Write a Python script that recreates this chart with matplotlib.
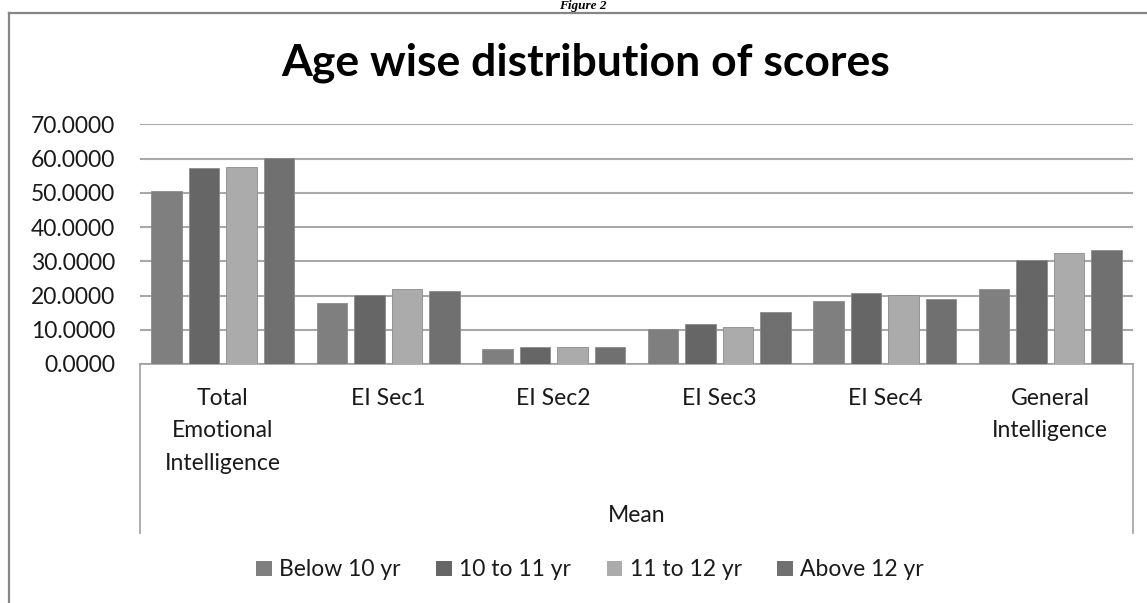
import matplotlib
matplotlib.use("Agg")
import matplotlib.pyplot as plt
from matplotlib.lines import Line2D
from matplotlib.patches import Patch
import numpy as np

categories = ["Total\nEmotional\nIntelligence", "EI Sec1", "EI Sec2", "EI Sec3",
              "EI Sec4", "General\nIntelligence"]
series_names = ["Below 10 yr", "10 to 11 yr", "11 to 12 yr", "Above 12 yr"]
below_10 = [50.5, 17.7, 4.3, 10.1, 18.5, 21.8]
from_10_to_11 = [57.2, 20.1, 5.0, 11.7, 20.7, 30.4]
from_11_to_12 = [57.6, 21.8, 5.0, 10.9, 20.1, 32.3]
above_12 = [60.3, 21.4, 5.0, 15.1, 18.9, 33.3]
y_ticks = [0, 10, 20, 30, 40, 50, 60, 70]
y_tick_labels = ["%.4f" % v for v in y_ticks]

series = [below_10, from_10_to_11, from_11_to_12, above_12]
colors = ["#7f7f7f", "#666666", "#ababab", "#707070"]

W, H = 1147, 603
fig = plt.figure(figsize=(W / 100, H / 100), dpi=100)
fig.patch.set_facecolor("white")

FONT = "Lato"
fs = 16.5

# plot area (pixel positions converted to figure fractions)
left, right, top, bottom = 140, 1133, 124.3, 364
ax = fig.add_axes([left / W, 1 - bottom / H, (right - left) / W, (bottom - top) / H])
ax.set_facecolor("none")

x = np.arange(len(categories))
bar_w = 0.185
pitch = 0.226
offsets = (np.arange(len(series)) - 1.5) * pitch
for vals, off, col, name in zip(series, offsets, colors, series_names):
    ax.bar(x + off, vals, width=bar_w, color=col, edgecolor="#8c8c8c",
           linewidth=0.6, label=name, zorder=3)

ax.set_xlim(-0.5, len(categories) - 0.5)
ax.set_ylim(0, 70)
ax.set_yticks(y_ticks)
ax.set_yticklabels(y_tick_labels, fontfamily=FONT, fontsize=fs, color="#1a1a1a")
ax.yaxis.grid(True, color="#a8a8a8", linewidth=1.5, zorder=0)
ax.tick_params(axis="y", length=0, pad=18)
ax.tick_params(axis="x", length=0, pad=17)
ax.set_xticks(x)
ax.set_xticklabels(categories, fontfamily=FONT, fontsize=fs, color="#1a1a1a",
                   linespacing=1.68, va="top")

for side in ["top", "right", "left"]:
    ax.spines[side].set_visible(False)
ax.spines["bottom"].set_color("#a0a0a0")
ax.spines["bottom"].set_linewidth(1.2)
ax.set_axisbelow(True)

# category axis frame lines
axis_box_bottom = 532.7
for px in (left, right):
    fig.add_artist(Line2D([px / W, px / W], [1 - bottom / H, 1 - axis_box_bottom / H],
                          transform=fig.transFigure, color="#a0a0a0", linewidth=1.2))

fig.text((left + right) / 2 / W, 1 - 516 / H, "Mean", ha="center", va="center",
         fontfamily=FONT, fontsize=fs, color="#1a1a1a")

# chart title
fig.text(586 / W, 1 - 63 / H, "Age wise distribution of scores", ha="center", va="center",
         fontfamily=FONT, fontweight="bold", fontsize=32, color="#000000")

# legend
handles = [Patch(facecolor=c, edgecolor="none") for c in colors]
fig.legend(handles, series_names, loc="center", bbox_to_anchor=(590 / W, 1 - 570 / H),
           ncol=4, frameon=False, prop={"family": FONT, "size": fs},
           handlelength=0.68, handleheight=0.68, handletextpad=0.32,
           columnspacing=1.55, labelcolor="#1a1a1a")

# outer chart border
fig.add_artist(Line2D([9 / W, 1.0], [1 - 12.7 / H, 1 - 12.7 / H], transform=fig.transFigure,
                      color="#868686", linewidth=1.6))
fig.add_artist(Line2D([9 / W, 9 / W], [1 - 12.7 / H, 0.0], transform=fig.transFigure,
                      color="#868686", linewidth=1.6))

# figure caption above the chart border
fig.text(583 / W, 1 - 9 / H, "Figure 2", ha="center", va="baseline",
         fontfamily="Liberation Serif", fontstyle="italic", fontweight="bold",
         fontsize=9.5, color="#000000")

fig.savefig("out.png", dpi=100, facecolor="white")
